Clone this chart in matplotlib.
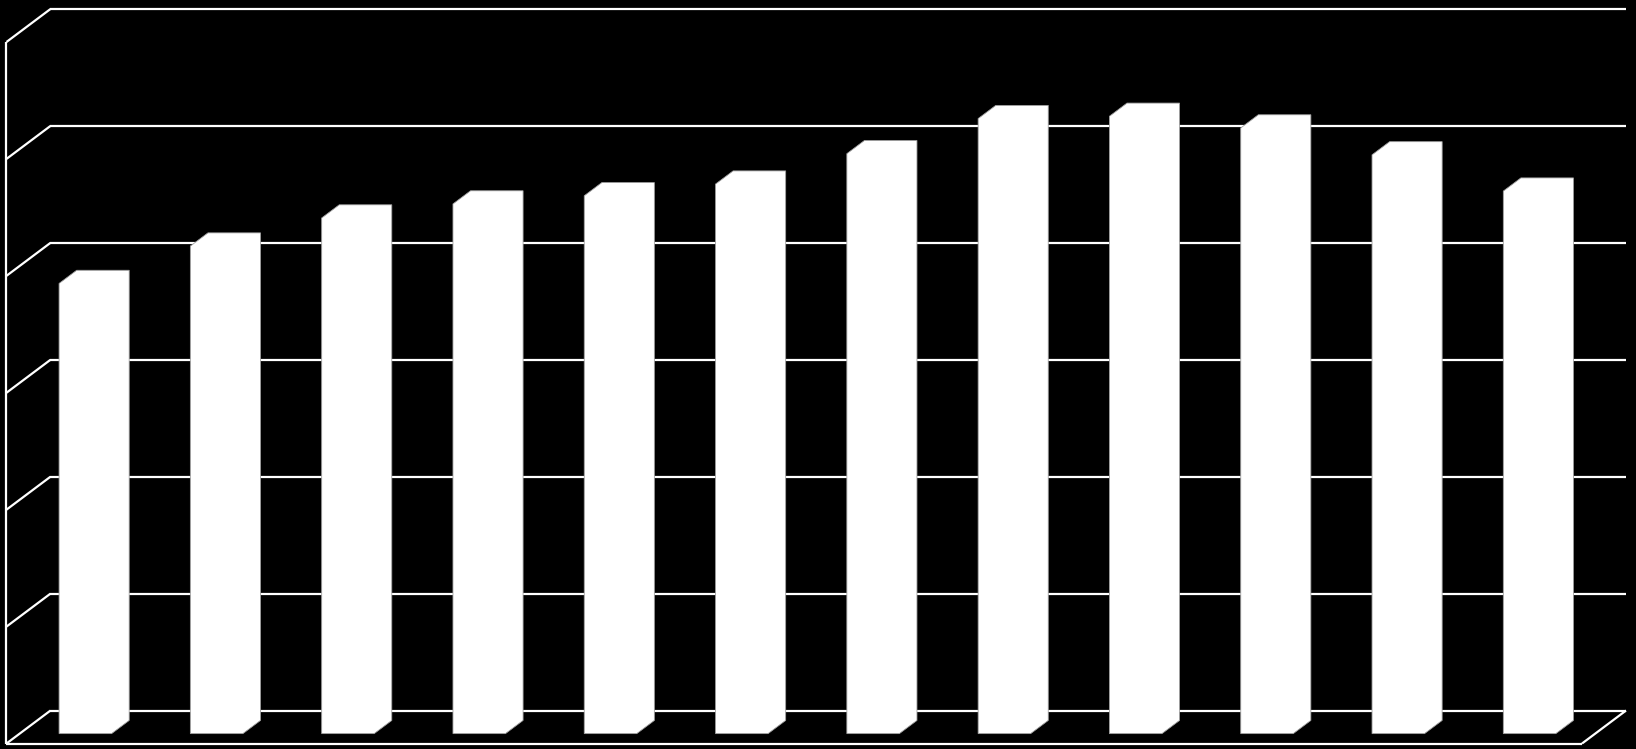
import matplotlib
matplotlib.use("Agg")
import matplotlib.pyplot as plt
from matplotlib.patches import Polygon

# twelve columns, no labels are shown in the picture
months = ["Jan", "Feb", "Mar", "Apr", "May", "Jun",
          "Jul", "Aug", "Sep", "Oct", "Nov", "Dec"]
values = [3.85, 4.17, 4.41, 4.53, 4.60, 4.70,
          4.96, 5.26, 5.28, 5.18, 4.95, 4.64]
grid_levels = [0, 1, 2, 3, 4, 5, 6]

# oblique projection: a point (x, v) at depth d (0 = front, 1 = back wall)
DX, DY = 0.335, 0.282
BAR_W = 0.4
BAR_FRONT, BAR_BACK = 0.3, 0.7


def proj(x, v, d):
    return x + d * DX, v + d * DY


fig = plt.figure(figsize=(16.36, 7.49), dpi=100, facecolor="black")
ax = fig.add_axes([0, 0, 1, 1])
ax.set_facecolor("black")
ax.set_xlim(-0.0495, 12.411)
ax.set_ylim(-0.047, 6.359)
ax.axis("off")

n = len(months)
line_kw = dict(color="white", lw=1.6, solid_capstyle="butt", zorder=1)

# back wall gridlines and the matching lines on the left wall
for g in grid_levels:
    x0, y0 = proj(0, g, 1)
    x1, y1 = proj(n, g, 1)
    ax.plot([x0, x1], [y0, y1], **line_kw)
    fx, fy = proj(0, g, 0)
    ax.plot([fx, x0], [fy, y0], **line_kw)

# left wall front edge
ax.plot([0, 0], [0, grid_levels[-1]], **line_kw)

# floor front edge and right edge
ax.plot([0, n], [0, 0], **line_kw)
rx, ry = proj(n, 0, 1)
ax.plot([n, rx], [0, ry], **line_kw)

# the columns
for i, v in enumerate(values):
    xl = i + 0.5 - BAR_W / 2
    xr = i + 0.5 + BAR_W / 2
    pts = [proj(xl, 0, BAR_FRONT), proj(xr, 0, BAR_FRONT),
           proj(xr, 0, BAR_BACK), proj(xr, v, BAR_BACK),
           proj(xl, v, BAR_BACK), proj(xl, v, BAR_FRONT)]
    ax.add_patch(Polygon(pts, closed=True, facecolor="white",
                         edgecolor="#a0a0a0", lw=0.6, zorder=3))

fig.savefig("out.png", dpi=100, facecolor="black")
